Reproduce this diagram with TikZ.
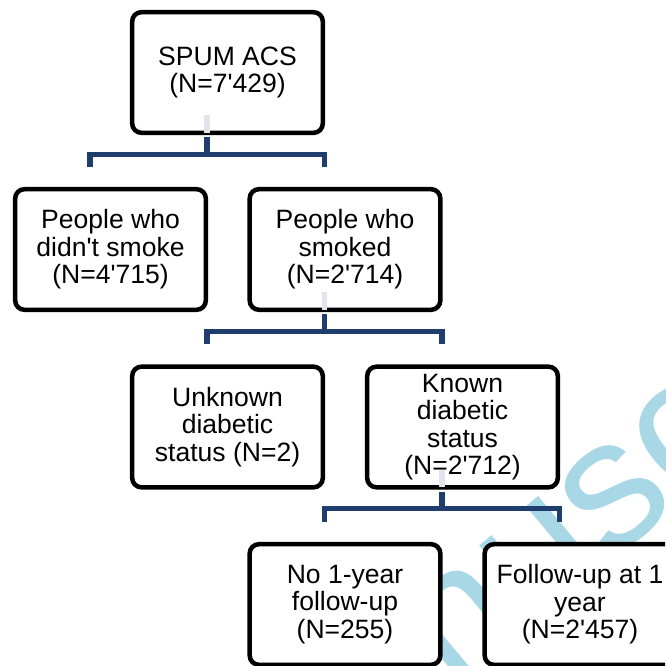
\documentclass[tikz,border=0pt]{standalone}
\usepackage{fontspec}
\setmainfont{Liberation Sans}
\usetikzlibrary{positioning}

\definecolor{linkblue}{RGB}{31,62,110}
\definecolor{stubgray}{RGB}{226,229,237}
\definecolor{markblue}{RGB}{168,216,230}
\newcommand{\apo}{\textquotesingle}

\tikzset{
  box/.style={draw=black, line width=3.4pt, rounded corners=7pt, fill=white,
    minimum width=143pt, minimum height=90.5pt, inner sep=0pt, align=center,
    font=\fontsize{19.9}{20.6}\selectfont},
  link/.style={linkblue, line width=3.8pt},
  stub/.style={stubgray, line width=3.8pt},
  watermark/.style={markblue, font=\fontsize{137}{150}\selectfont, inner sep=0pt}
}

\begin{document}
\begin{tikzpicture}[x=0.75pt, y=-0.75pt]
%frame
\useasboundingbox (0,0) rectangle (665,666);
\clip (0,0) rectangle (665,666);
%watermark
\node[watermark, rotate=40] (mark) at (572,533) {Manuscript};
%boxes
\node[box] (spum) at (227.5,72.5) {SPUM ACS\\(N=7\apo{}429)};
\node[box] (nosmoke) at (110.5,249.5) {People who\\didn\apo{}t smoke\\(N=4\apo{}715)};
\node[box] (smoke) at (345,249.5) {People who\\smoked\\(N=2\apo{}714)};
\node[box] (unknown) at (227.5,427) {Unknown\\diabetic\\status (N=2)};
\node[box] (known) at (462.5,427) {Known\\diabetic\\status\\(N=2\apo{}712)};
\node[box] (nofu) at (345,604.5) {No 1-year\\follow-up\\(N=255)};
\node[box] (fu) at (580,604.5) {Follow-up at 1\\year\\(N=2\apo{}457)};
%pale stubs inside parents
\draw[stub] ([xshift=-15.4pt,yshift=15pt]spum.south) -- ([xshift=-15.4pt,yshift=1.7pt]spum.south);
\draw[stub] ([xshift=-15.4pt,yshift=15pt]smoke.south) -- ([xshift=-15.4pt,yshift=1.7pt]smoke.south);
\draw[stub] ([xshift=-15.4pt,yshift=15pt]known.south) -- ([xshift=-15.4pt,yshift=1.7pt]known.south);
%forks
\coordinate (fork1) at ([xshift=-15.4pt,yshift=-14.4pt]spum.south);
\coordinate (fork2) at ([xshift=-15.4pt,yshift=-14.4pt]smoke.south);
\coordinate (fork3) at ([xshift=-15.4pt,yshift=-14.2pt]known.south);
%first level
\draw[link] ([xshift=-15.4pt,yshift=-1.7pt]spum.south) -- (fork1);
\draw[link] ([xshift=-15.4pt,yshift=15.2pt]nosmoke.north) |- (fork1) -| ([xshift=-15.4pt,yshift=15.2pt]smoke.north);
%second level
\draw[link] ([xshift=-15.4pt,yshift=-1.7pt]smoke.south) -- (fork2);
\draw[link] ([xshift=-15.4pt,yshift=15.2pt]unknown.north) |- (fork2) -| ([xshift=-15.4pt,yshift=15.2pt]known.north);
%third level
\draw[link] ([xshift=-15.4pt,yshift=-1.7pt]known.south) -- (fork3);
\draw[link] ([xshift=-15.4pt,yshift=15.2pt]nofu.north) |- (fork3) -| ([xshift=-15.4pt,yshift=15.2pt]fu.north);
\end{tikzpicture}
\end{document}
